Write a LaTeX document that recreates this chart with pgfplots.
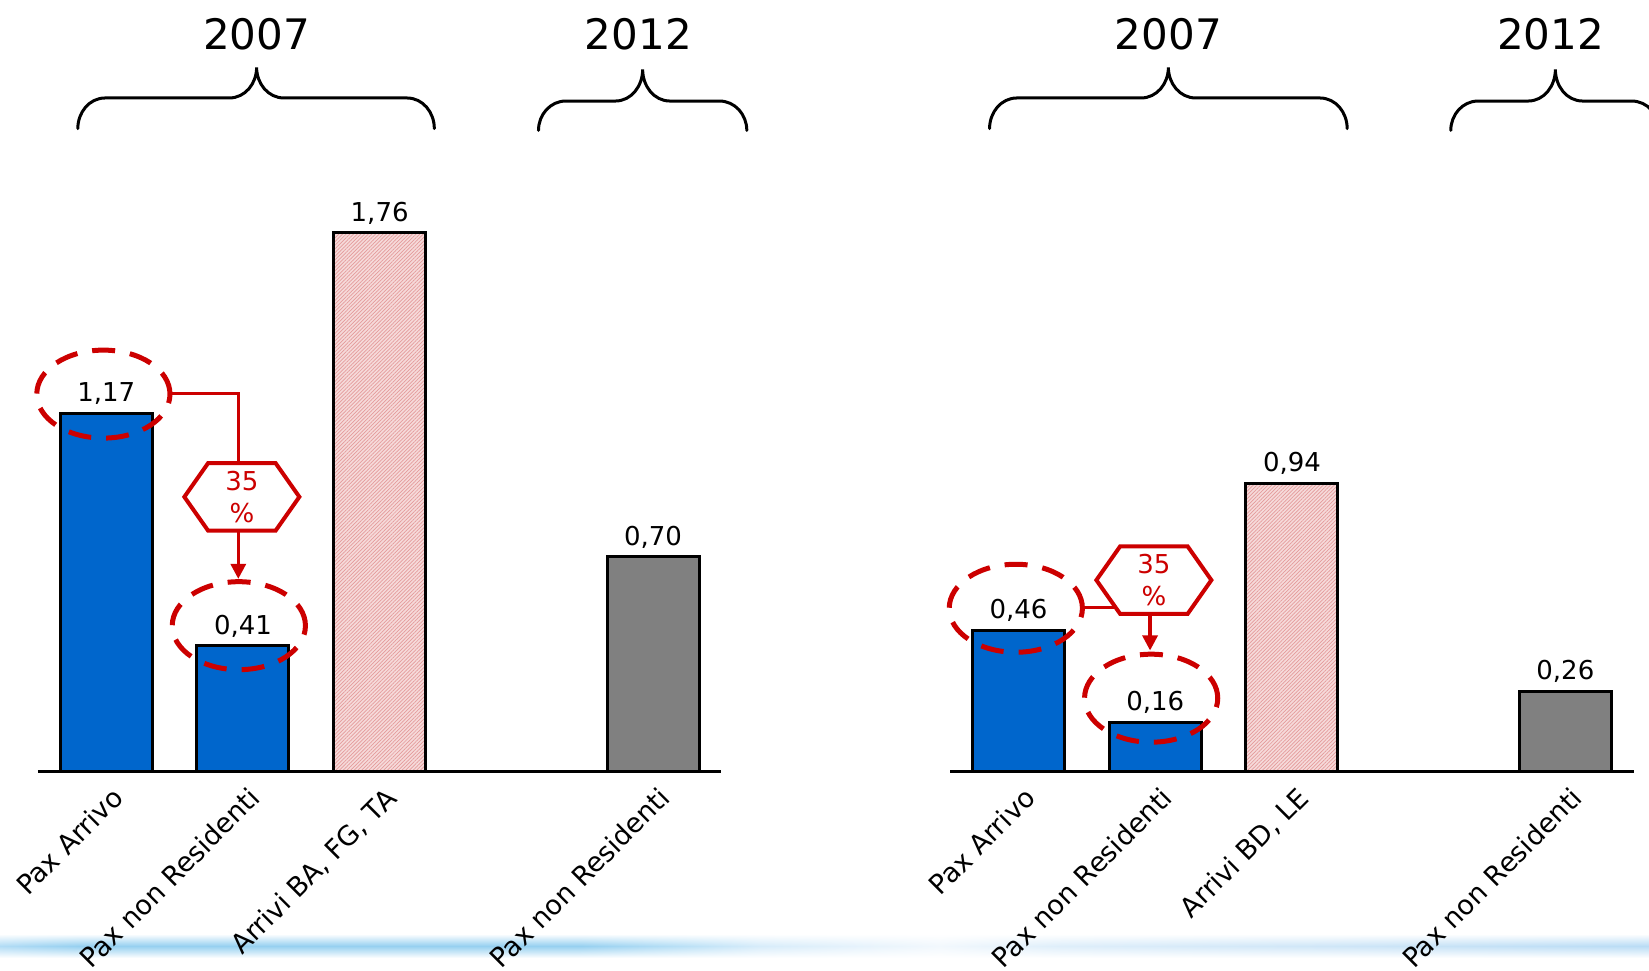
\documentclass[border=0pt]{standalone}
\usepackage{fontspec}
\setmainfont{DejaVu Sans}
\usepackage{pgfplots}
\pgfplotsset{compat=1.18}
\usetikzlibrary{arrows.meta,patterns.meta,shadings}

\definecolor{barblue}{RGB}{0,102,204}
\definecolor{bargray}{RGB}{128,128,128}
\definecolor{hatchbg}{RGB}{246,218,218}
\definecolor{hatchfg}{RGB}{228,155,155}
\definecolor{annred}{RGB}{204,0,0}
% colours of the decorative band along the bottom
\definecolor{s0}{RGB}{178,220,245}
\definecolor{s1}{RGB}{150,208,240}
\definecolor{s2}{RGB}{185,224,246}
\definecolor{s3}{RGB}{215,236,250}
\definecolor{s4}{RGB}{242,248,253}
\definecolor{s5}{RGB}{222,238,250}
\definecolor{s6}{RGB}{205,229,247}
\definecolor{s7}{RGB}{185,220,245}

\newcommand{\datafont}{\fontsize{13}{15.6}\selectfont}
\newcommand{\tickfont}{\fontsize{13.5}{16}\selectfont}
\newcommand{\yearfont}{\fontsize{21}{25}\selectfont}
\newcommand{\hexfont}{\fontsize{13}{16.3}\selectfont}

% curly brace: #1 left end, #2 tip, #3 right end, #4 foot level, #5 bar level, #6 tip level
\newcommand{\yearbrace}[6]{%
  \draw[line width=1.5pt, black, line cap=round]
    (axis cs:#1,#4) to[out=90,in=180] (axis cs:#1+0.2,#5)
    -- (axis cs:#2-0.2,#5) to[out=0,in=-90] (axis cs:#2,#6)
    to[out=-90,in=180] (axis cs:#2+0.2,#5)
    -- (axis cs:#3-0.2,#5) to[out=0,in=90] (axis cs:#3,#4);}

% hexagonal badge with the share label
\newcommand{\hexlabel}[2]{%
  \draw[annred, line width=2pt, fill=white, line join=miter]
    (axis cs:#1,#2) ++(-28.75pt,0pt) -- ++(11.85pt,16.85pt) -- ++(33.8pt,0pt)
    -- ++(11.85pt,-16.85pt) -- ++(-11.85pt,-16.85pt) -- ++(-33.8pt,0pt) -- cycle;
  \node[annred, font=\hexfont, align=center, inner sep=0pt] at (axis cs:#1,#2) {35\\\%};}

\newcommand{\markring}[2]{%
  \draw[annred, line width=2.5pt, dash pattern=on 11.5pt off 7.5pt]
    (axis cs:#1,#2) ellipse [x radius=33.3pt, y radius=22pt];}

\pgfplotsset{
  panel/.style={
    anchor=south west,
    scale only axis, width=341.75pt, height=382.4pt,
    xmin=-0.5, xmax=4.5, ymin=0, ymax=2.5,
    axis x line=bottom, axis y line=none,
    axis line style={-, line width=1.5pt, black},
    xtick={0,1,2,4},
    xtick style={draw=none},
    ytick=\empty,
    x tick label style={font=\tickfont, xshift=2pt, yshift=-2.7pt, rotate=45, anchor=north east, inner sep=0pt},
    ybar, bar width=0.673, bar shift=0pt,
    clip=false,
    nodes near coords={\pgfmathprintnumber[use comma,fixed,fixed zerofill,precision=2,assume math mode=true]{\pgfplotspointmeta}},
    nodes near coords style={font=\datafont, text=black, inner sep=3.5pt, anchor=south},
  },
  bluebar/.style={fill=barblue, draw=black, line width=1.5pt},
  hatchbar/.style={draw=black, line width=1.5pt, preaction={fill=hatchbg},
    pattern={Lines[angle=45,distance=1.3pt,line width=0.35pt]}, pattern color=hatchfg},
  graybar/.style={fill=bargray, draw=black, line width=1.5pt},
}

\begin{document}
\begin{tikzpicture}
\useasboundingbox (0,0) rectangle (824.5pt,485pt);

% light band along the bottom: fades to white above and below its centre line
\foreach \xa/\xb/\ca/\cb in {0/40/s0/s1, 40/290/s1/s1, 290/340/s1/s2, 340/380/s2/s3,
    380/470/s3/s4, 470/530/s4/s5, 530/680/s5/s6, 680/824.5/s6/s7}{
  \shade[upper left=white, upper right=white, lower left=\ca, lower right=\cb]
    (\xa pt,12pt) rectangle (\xb pt,18pt);
  \shade[upper left=\ca, upper right=\cb, lower left=white, lower right=white]
    (\xa pt,6pt) rectangle (\xb pt,12pt);
}

% ---- first region ----
\begin{axis}[panel, at={(18.95pt,99.5pt)},
  xticklabels={Pax Arrivo, Pax non Residenti, {Arrivi BA, FG, TA}, Pax non Residenti}]
\addplot[bluebar] coordinates {(0,1.17) (1,0.41)};
\addplot[hatchbar] coordinates {(2,1.76)};
\addplot[graybar] coordinates {(4,0.70)};

\markring{-0.021}{1.232}
\markring{0.970}{0.475}
\draw[annred, line width=1.6pt] (axis cs:0.467,1.235) -| (axis cs:0.966,0.896);
\hexlabel{0.992}{0.896}
\draw[annred, line width=1.6pt, -{Triangle[width=7.5pt,length=7.5pt]}]
  (axis cs:0.966,0.786) -- (axis cs:0.966,0.628);

\yearbrace{-0.208}{1.10}{2.40}{2.10}{2.20}{2.30}
\yearbrace{3.162}{3.924}{4.686}{2.094}{2.19}{2.293}
\node[font=\yearfont] at (axis cs:1.10,2.407) {2007};
\node[font=\yearfont] at (axis cs:3.893,2.407) {2012};
\end{axis}

% ---- second region ----
\begin{axis}[panel, at={(475.1pt,99.5pt)},
  xticklabels={Pax Arrivo, Pax non Residenti, {Arrivi BD, LE}, Pax non Residenti}]
\addplot[bluebar] coordinates {(0,0.46) (1,0.16)};
\addplot[hatchbar] coordinates {(2,0.94)};
\addplot[graybar] coordinates {(4,0.26)};

\markring{-0.020}{0.532}
\markring{0.970}{0.238}
\draw[annred, line width=1.6pt] (axis cs:0.473,0.534) -- (axis cs:0.99,0.534);
\hexlabel{0.990}{0.624}
\draw[annred, line width=1.6pt, -{Triangle[width=7.5pt,length=7.5pt]}]
  (axis cs:0.962,0.516) -- (axis cs:0.962,0.394);

\yearbrace{-0.212}{1.096}{2.404}{2.10}{2.20}{2.30}
\yearbrace{3.162}{3.927}{4.686}{2.094}{2.19}{2.293}
\node[font=\yearfont] at (axis cs:1.096,2.407) {2007};
\node[font=\yearfont] at (axis cs:3.893,2.407) {2012};
\end{axis}
\end{tikzpicture}
\end{document}
